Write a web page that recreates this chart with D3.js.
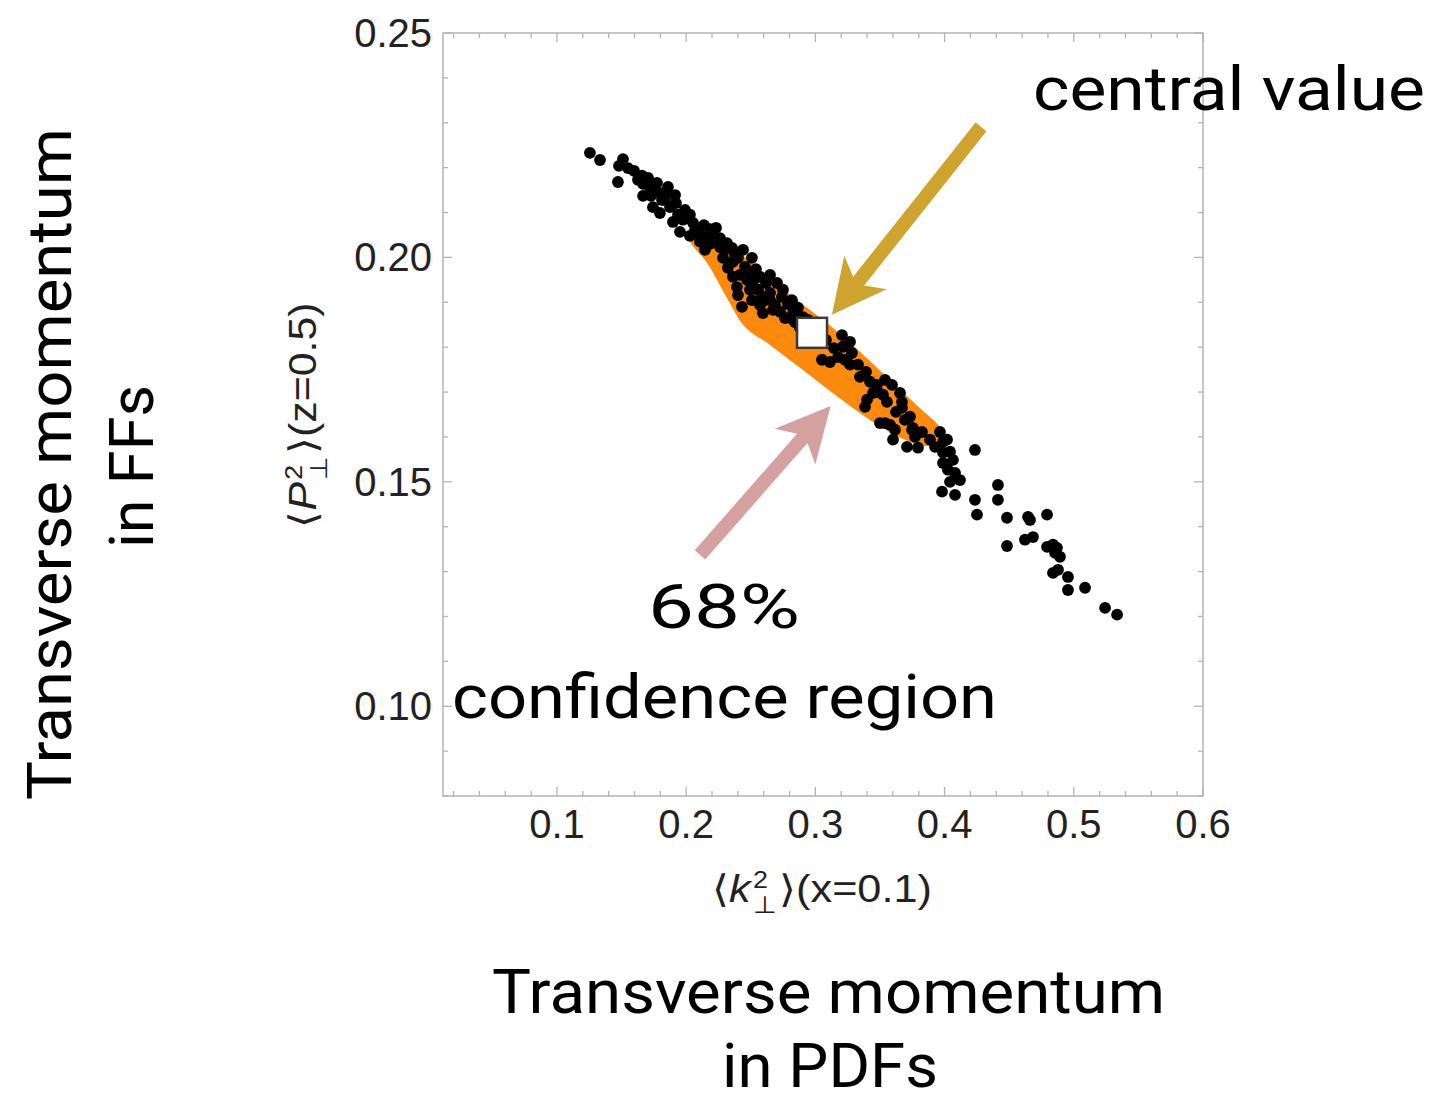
<!DOCTYPE html>
<html>
<head>
<meta charset="utf-8">
<script src="https://cdn.jsdelivr.net/npm/d3@7"></script>
<style>
  body { margin: 0; background: #fff; }
  svg { display: block; }
</style>
</head>
<body>
<svg id="chart" width="1435" height="1102"></svg>
<script>
// replica points: <k_perp^2>(x=0.1) vs <P_perp^2>(z=0.5)
const kPerp = [
  0.1255, 0.1333, 0.1511, 0.1480, 0.1472, 0.1596, 0.1658, 0.1666, 0.1720, 0.1774,
  0.1859, 0.1666, 0.1728, 0.1797, 0.1743, 0.1797, 0.1875, 0.1991, 0.1898, 0.1975,
  0.2053, 0.2138, 0.2184, 0.1952, 0.2029, 0.2107, 0.2207, 0.2107, 0.2184, 0.2262,
  0.2440, 0.2285, 0.2362, 0.2455, 0.2540, 0.2362, 0.2471, 0.2571, 0.2393, 0.2494,
  0.2703, 0.2649, 0.2587, 0.2432, 0.2594, 0.2741, 0.2788, 0.2827, 0.2904, 0.2223,
  0.2300, 0.2378, 0.2029, 0.1836, 0.1914, 0.2146, 0.2323, 0.2416, 0.2509, 0.2610,
  0.2687, 0.2726, 0.2842, 0.2881, 0.2827, 0.3206, 0.3268, 0.3214, 0.3051, 0.3113,
  0.3175, 0.3283, 0.3268, 0.3345, 0.3423, 0.3477, 0.3539, 0.3485, 0.3400, 0.3554,
  0.3655, 0.3670, 0.3384, 0.3670, 0.3732, 0.3500, 0.3578, 0.3616, 0.3755, 0.3825,
  0.3601, 0.3709, 0.3794, 0.3964, 0.4019, 0.4042, 0.3988, 0.4065, 0.4081, 0.4235,
  0.3539, 0.3748, 0.3988, 0.3988, 0.4042, 0.3980, 0.4081, 0.4413, 0.4413, 0.4235,
  0.4251, 0.4483, 0.4646, 0.4661, 0.4793, 0.4483, 0.4622, 0.4684, 0.4793, 0.4839,
  0.4870, 0.4855, 0.4893, 0.4878, 0.4839, 0.4955, 0.4955, 0.5087, 0.5242, 0.5335,
  0.1550, 0.1627, 0.1705, 0.1759, 0.1813, 0.1851, 0.1921, 0.1937, 0.2014, 0.2068,
  0.2146, 0.2231, 0.2262, 0.2316, 0.2355, 0.2401, 0.2509, 0.2478, 0.2533, 0.2618,
  0.2649, 0.2556, 0.2649, 0.2749, 0.2819, 0.2865, 0.2943, 0.2765, 0.2672, 0.2509,
  0.2401, 0.2571, 0.3082, 0.3144, 0.3229, 0.3330, 0.3392, 0.3446, 0.3523, 0.3593,
  0.3624, 0.3693, 0.3771, 0.3887, 0.3926, 0.4026, 0.4119
];
const pPerp = [
  0.2233, 0.2217, 0.2219, 0.2204, 0.2168, 0.2193, 0.2182, 0.2164, 0.2155, 0.2166,
  0.2157, 0.2137, 0.2137, 0.2144, 0.2112, 0.2099, 0.2112, 0.2106, 0.2079, 0.2084,
  0.2077, 0.2072, 0.2063, 0.2057, 0.2048, 0.2050, 0.2052, 0.2035, 0.2030, 0.2023,
  0.2017, 0.1999, 0.1990, 0.1979, 0.1974, 0.1957, 0.1950, 0.1957, 0.1934, 0.1928,
  0.1943, 0.1921, 0.1912, 0.1890, 0.1876, 0.1912, 0.1896, 0.1876, 0.1867, 0.2039,
  0.2017, 0.2006, 0.2095, 0.2128, 0.2139, 0.2017, 0.1977, 0.1961, 0.1939, 0.1905,
  0.1894, 0.1879, 0.1856, 0.1843, 0.1861, 0.1827, 0.1812, 0.1801, 0.1772, 0.1767,
  0.1778, 0.1787, 0.1761, 0.1734, 0.1723, 0.1716, 0.1727, 0.1700, 0.1683, 0.1678,
  0.1698, 0.1678, 0.1667, 0.1665, 0.1645, 0.1631, 0.1627, 0.1616, 0.1620, 0.1611,
  0.1594, 0.1578, 0.1576, 0.1611, 0.1594, 0.1567, 0.1542, 0.1549, 0.1520, 0.1571,
  0.1631, 0.1616, 0.1589, 0.1565, 0.1500, 0.1478, 0.1471, 0.1493, 0.1460, 0.1460,
  0.1427, 0.1420, 0.1422, 0.1415, 0.1427, 0.1357, 0.1371, 0.1377, 0.1355, 0.1360,
  0.1353, 0.1342, 0.1333, 0.1304, 0.1297, 0.1288, 0.1259, 0.1264, 0.1219, 0.1204,
  0.2199, 0.2173, 0.2177, 0.2146, 0.2128, 0.2146, 0.2121, 0.2095, 0.2088, 0.2061,
  0.2043, 0.2066, 0.2043, 0.2032, 0.2021, 0.1999, 0.1999, 0.1968, 0.1954, 0.1943,
  0.1961, 0.1928, 0.1905, 0.1928, 0.1905, 0.1888, 0.1861, 0.1865, 0.1883, 0.1905,
  0.1916, 0.1894, 0.1816, 0.1798, 0.1772, 0.1761, 0.1745, 0.1698, 0.1694, 0.1716,
  0.1656, 0.1638, 0.1600, 0.1594, 0.1578, 0.1527, 0.1504
];

// outline of the 68% confidence region
const regionK = [
  0.2107, 0.2339, 0.2571, 0.2827, 0.3090, 0.3345, 0.3616, 0.3848, 0.3964, 0.3949,
  0.3872, 0.3694, 0.3423, 0.3152, 0.2881, 0.2649, 0.2455, 0.2324, 0.2161, 0.2030, 0.2014
];
const regionP = [
  0.2066, 0.2028, 0.1972, 0.1912, 0.1854, 0.1790, 0.1716, 0.1654, 0.1620, 0.1594,
  0.1580, 0.1594, 0.1638, 0.1694, 0.1754, 0.1805, 0.1845, 0.1905, 0.1988, 0.2035, 0.2057
];

// central value
const centralK = 0.2974;
const centralP = 0.1832;

const xTicks = [0.1, 0.2, 0.3, 0.4, 0.5, 0.6];
const yTicks = [0.10, 0.15, 0.20, 0.25];
const xMinor = d3.range(0.02, 0.59, 0.02).map(v => +v.toFixed(2));
const yMinor = d3.range(0.08, 0.251, 0.01).map(v => +v.toFixed(2));

// annotation arrows (tail -> tip), in data units
const goldArrow = { from: [0.4282, 0.2291], to: [0.3128, 0.1872] };
const pinkArrow = { from: [0.2107, 0.1337], to: [0.3118, 0.1669] };

const svg = d3.select('#chart');
const plotLeft = 443, plotTop = 33, plotW = 760, plotH = 763;

const x = d3.scaleLinear().domain([0.0118, 0.6]).range([plotLeft, plotLeft + plotW]);
const y = d3.scaleLinear().domain([0.08, 0.25]).range([plotTop + plotH, plotTop]);

const frameColor = '#b4b4b4';

// frame
svg.append('rect')
  .attr('x', plotLeft).attr('y', plotTop)
  .attr('width', plotW).attr('height', plotH)
  .attr('fill', 'none')
  .attr('stroke', frameColor)
  .attr('stroke-width', 1.5);

// ticks on all four sides, pointing in
function xTickMarks(vals, len, isMajor) {
  const g = svg.append('g').attr('stroke', frameColor).attr('stroke-width', 1.3);
  vals.forEach(v => {
    if (!isMajor && xTicks.some(t => Math.abs(t - v) < 1e-6)) return;
    g.append('line').attr('x1', x(v)).attr('x2', x(v)).attr('y1', plotTop + plotH).attr('y2', plotTop + plotH - len);
    g.append('line').attr('x1', x(v)).attr('x2', x(v)).attr('y1', plotTop).attr('y2', plotTop + len);
  });
}
function yTickMarks(vals, len, isMajor) {
  const g = svg.append('g').attr('stroke', frameColor).attr('stroke-width', 1.3);
  vals.forEach(v => {
    if (!isMajor && yTicks.some(t => Math.abs(t - v) < 1e-6)) return;
    g.append('line').attr('y1', y(v)).attr('y2', y(v)).attr('x1', plotLeft).attr('x2', plotLeft + len);
    g.append('line').attr('y1', y(v)).attr('y2', y(v)).attr('x1', plotLeft + plotW).attr('x2', plotLeft + plotW - len);
  });
}
xTickMarks(xMinor, 5, false);
xTickMarks(xTicks, 9, true);
yTickMarks(yMinor, 5, false);
yTickMarks(yTicks, 9, true);

// tick labels
const tickFont = '"Liberation Sans", Arial, Helvetica, sans-serif';
svg.append('g').selectAll('text')
  .data(xTicks)
  .enter().append('text')
  .attr('x', d => x(d))
  .attr('y', plotTop + plotH + 42)
  .attr('text-anchor', 'middle')
  .attr('font-family', tickFont)
  .attr('font-size', 40)
  .attr('fill', '#222')
  .text(d => d3.format('.1f')(d));

svg.append('g').selectAll('text')
  .data(yTicks)
  .enter().append('text')
  .attr('x', plotLeft - 11)
  .attr('y', d => y(d) + 14)
  .attr('text-anchor', 'end')
  .attr('font-family', tickFont)
  .attr('font-size', 40)
  .attr('fill', '#222')
  .text(d => d3.format('.2f')(d));

// confidence region
const regionPts = regionK.map((k, i) => [x(k), y(regionP[i])]);
svg.append('path')
  .attr('d', d3.line().curve(d3.curveCatmullRomClosed.alpha(0.5))(regionPts))
  .attr('fill', '#fd8a0c');

// replicas
svg.append('g').selectAll('circle')
  .data(kPerp.map((k, i) => ({ k, p: pPerp[i] })))
  .enter().append('circle')
  .attr('cx', d => x(d.k))
  .attr('cy', d => y(d.p))
  .attr('r', 5.9)
  .attr('fill', '#000');

// central value marker
svg.append('rect')
  .attr('x', x(centralK) - 15)
  .attr('y', y(centralP) - 15)
  .attr('width', 30)
  .attr('height', 30)
  .attr('fill', '#fff')
  .attr('stroke', '#3a3a3a')
  .attr('stroke-width', 2.5);

// arrow polygons
function drawArrow(a, color) {
  const tx = x(a.from[0]), ty = y(a.from[1]);
  const px = x(a.to[0]), py = y(a.to[1]);
  const len = Math.hypot(tx - px, ty - py);
  const ux = (tx - px) / len, uy = (ty - py) / len;
  const nx = -uy, ny = ux;
  const shaft = 7, headLen = 54, notch = 43, headHalf = 27;
  const pts = [
    [px, py],
    [px + ux * headLen + nx * headHalf, py + uy * headLen + ny * headHalf],
    [px + ux * notch + nx * shaft, py + uy * notch + ny * shaft],
    [tx + nx * shaft, ty + ny * shaft],
    [tx - nx * shaft, ty - ny * shaft],
    [px + ux * notch - nx * shaft, py + uy * notch - ny * shaft],
    [px + ux * headLen - nx * headHalf, py + uy * headLen - ny * headHalf]
  ];
  svg.append('path')
    .attr('d', d3.line()(pts) + 'Z')
    .attr('fill', color);
}
drawArrow(goldArrow, '#cea42f');
drawArrow(pinkArrow, '#d5a1a0');

// axis labels with stacked super/subscript
function mathLabel(parts, size, target) {
  const g = svg.append('g');
  const t = g.append('text')
    .attr('font-family', tickFont)
    .attr('font-size', size)
    .attr('fill', '#222');
  let cx = 0;
  parts.forEach(p => {
    if (p.stack) {
      const s1 = t.append('tspan').attr('x', cx).attr('y', -size * 0.38)
        .attr('font-size', size * 0.62).text(p.stack[0]);
      const s2 = t.append('tspan').attr('x', cx).attr('y', size * 0.3)
        .attr('font-size', size * 0.62).text(p.stack[1]);
      cx += Math.max(s1.node().getComputedTextLength(), s2.node().getComputedTextLength()) + 2;
    } else {
      const s = t.append('tspan').attr('x', cx).attr('y', 0)
        .attr('font-style', p.italic ? 'italic' : 'normal').text(p.text);
      cx += s.node().getComputedTextLength() + (p.italic ? 2 : 0);
    }
  });
  const sx = target / cx;
  t.attr('transform', `scale(${sx},1) translate(${-cx / 2},0)`);
  return g;
}

mathLabel([
  { text: '\u27E8' }, { text: 'k', italic: true }, { stack: ['2', '\u22A5'] }, { text: '\u27E9(x=0.1)' }
], 38, 220).attr('transform', 'translate(822,902)');

mathLabel([
  { text: '\u27E8' }, { text: 'P', italic: true }, { stack: ['2', '\u22A5'] }, { text: '\u27E9(z=0.5)' }
], 38, 225).attr('transform', 'translate(316,415) rotate(-90)');

// big annotation text
const bigFont = 'Roboto, "Open Sans", sans-serif';
function bigText(str, tx, ty, len, rot) {
  svg.append('text')
    .attr('transform', `translate(${tx},${ty})` + (rot ? ' rotate(-90)' : ''))
    .attr('font-family', bigFont)
    .attr('font-size', 62)
    .attr('fill', '#000')
    .attr('textLength', len)
    .attr('lengthAdjust', 'spacingAndGlyphs')
    .text(str);
}
bigText('central value', 1033, 110, 392);
bigText('68%', 648, 628, 152);
bigText('confidence region', 452, 718, 545);
bigText('Transverse momentum', 492, 1013, 673);
bigText('in PDFs', 722, 1087, 216);
bigText('Transverse momentum', 71, 800, 672, true);
bigText('in FFs', 153, 548, 163, true);
</script>
</body>
</html>
